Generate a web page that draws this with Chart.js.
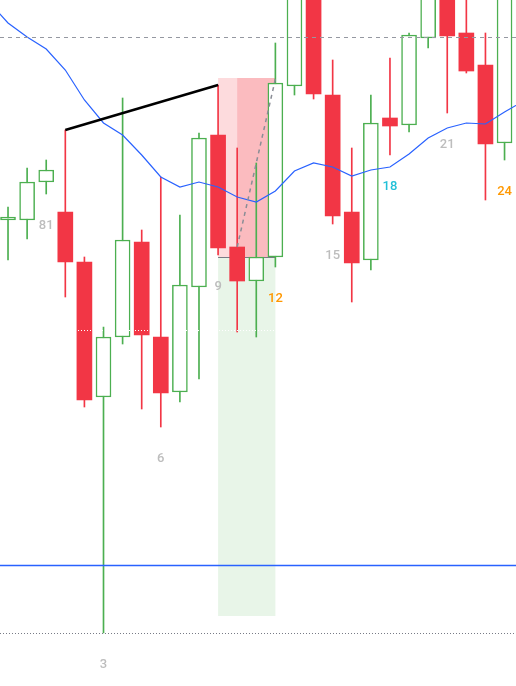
<!DOCTYPE html>
<html>
<head>
<meta charset="utf-8">
<script src="https://cdn.jsdelivr.net/npm/chart.js@4.4.1/dist/chart.umd.min.js"></script>
<style>
  html, body { margin: 0; padding: 0; background: #ffffff; }
  #wrap { width: 516px; height: 686px; position: relative; overflow: hidden; }
</style>
</head>
<body>
<div id="wrap"><canvas id="priceChart"></canvas></div>
<script>
// --- Data (bar index 0..26, prices) ---
const bars   = [0, 1, 2, 3, 4, 5, 6, 7, 8, 9, 10, 11, 12, 13, 14, 15, 16, 17, 18, 19, 20, 21, 22, 23, 24, 25, 26];
const opens  = [46.6, 46.6, 50.4, 47.4, 42.4, 28.9, 34.9, 44.4, 34.9, 29.4, 39.9, 55.1, 43.9, 40.5, 42.9, 60.0, 72.6, 59.1, 47.4, 42.6, 56.8, 56.1, 64.8, 70.6, 65.3, 62.1, 54.3];
const highs  = [47.9, 51.8, 52.6, 55.6, 42.9, 35.9, 58.8, 45.6, 50.9, 47.1, 55.3, 60.1, 53.8, 52.3, 64.3, 73.6, 74.6, 62.6, 53.8, 59.1, 62.8, 65.3, 72.6, 72.6, 69.6, 65.3, 73.6];
const lows   = [42.6, 44.7, 49.2, 38.9, 27.9,  5.3, 34.2, 27.7, 25.9, 28.4, 30.7, 43.1, 35.4, 34.9, 41.9, 59.1, 58.7, 46.2, 38.4, 41.6, 53.1, 55.4, 63.8, 57.3, 61.3, 48.6, 52.6];
const closes = [46.9, 50.4, 51.6, 42.4, 28.6, 34.9, 44.6, 35.1, 29.3, 40.1, 54.8, 43.8, 40.5, 42.9, 60.3, 71.6, 59.2, 47.0, 42.3, 56.3, 56.0, 65.1, 70.6, 65.0, 61.5, 54.2, 71.6];

// moving average, one bar before and after the visible range so the line runs off the edges
const maBars   = [-1, 0, 1, 2, 3, 4, 5, 6, 7, 8, 9, 10, 11, 12, 13, 14, 15, 16, 17, 18, 19, 20, 21, 22, 23, 24, 25, 26, 27];
const maValues = [68.4, 66.3, 64.9, 63.7, 61.6, 58.6, 56.3, 55.1, 53.1, 50.9, 49.9, 50.4, 49.9, 48.9, 48.4, 49.5, 51.5, 52.3, 51.9, 51.0, 51.6, 51.9, 53.2, 54.8, 55.8, 56.3, 56.2, 57.4, 58.5];

// bar count labels under the lows
const labelBars  = [2, 5, 8, 11, 14, 17, 20, 23, 26];
const labelTexts = ['81', '3', '6', '9', '12', '15', '18', '21', '24'];

// drawings
const trendBars   = [3, 11];
const trendPrices = [55.6, 60.1];
const positionBars   = [11, 12, 14];          // start, shaded start, end
const positionPrices = [60.8, 42.9, 7.0];     // stop, entry, target
const pathBars   = [12, 14];
const pathPrices = [43.9, 60.7];
const dashedLevel = 64.9;
const whiteLevel  = 35.6;
const blueLevel   = 12.1;
const dottedLevel = 5.3;

// --- Colours ---
const UP = '#4caf50';
const DOWN = '#f23645';
const labelColors = ['#bdbdbd', '#bdbdbd', '#bdbdbd', '#bdbdbd', '#ff9800', '#bdbdbd', '#22c0d8', '#bdbdbd', '#ff9800'];

const isUp = bars.map(i => closes[i] >= opens[i]);

// === Drawings plugin (everything placed through the chart scales) ===
const drawingsPlugin = {
    id: 'drawings',
    beforeDatasetsDraw(chart) {
        const { ctx, scales: { x, y } } = chart;
        const xa = x.getPixelForValue(positionBars[0]);
        const xb = x.getPixelForValue(positionBars[1]);
        const xc = x.getPixelForValue(positionBars[2]);
        const yStop = y.getPixelForValue(positionPrices[0]);
        const yEntry = y.getPixelForValue(positionPrices[1]);
        const yTarget = y.getPixelForValue(positionPrices[2]);
        ctx.save();
        ctx.fillStyle = 'rgba(76, 175, 80, 0.13)';
        ctx.fillRect(xa, yEntry, xc - xa, yTarget - yEntry);
        ctx.fillStyle = 'rgba(242, 54, 69, 0.18)';
        ctx.fillRect(xa, yStop, xc - xa, yEntry - yStop);
        ctx.fillStyle = 'rgba(242, 54, 69, 0.20)';
        ctx.fillRect(xb, yStop, xc - xb, yEntry - yStop);
        ctx.strokeStyle = '#787b86';
        ctx.lineWidth = 1;
        ctx.beginPath();
        ctx.moveTo(xa, Math.round(yEntry) + 0.5);
        ctx.lineTo(xc, Math.round(yEntry) + 0.5);
        ctx.stroke();
        ctx.restore();
    },
    afterDatasetsDraw(chart) {
        const { ctx, chartArea: area, scales: { x, y } } = chart;
        const hLine = (price, color, width, dash) => {
            const py = Math.round(y.getPixelForValue(price)) + 0.5;
            ctx.strokeStyle = color;
            ctx.lineWidth = width;
            ctx.setLineDash(dash);
            ctx.beginPath();
            ctx.moveTo(area.left, py);
            ctx.lineTo(area.right, py);
            ctx.stroke();
        };
        ctx.save();
        hLine(whiteLevel, '#ffffff', 1, [1, 2]);
        hLine(dashedLevel, '#9598a1', 1, [4, 4]);
        hLine(blueLevel, '#2962ff', 1.5, []);
        hLine(dottedLevel, '#787b86', 1, [1, 2]);

        // trend line
        ctx.setLineDash([]);
        ctx.strokeStyle = '#000000';
        ctx.lineWidth = 2.5;
        ctx.beginPath();
        ctx.moveTo(x.getPixelForValue(trendBars[0]), y.getPixelForValue(trendPrices[0]));
        ctx.lineTo(x.getPixelForValue(trendBars[1]), y.getPixelForValue(trendPrices[1]));
        ctx.stroke();

        // dashed path inside the position box
        ctx.setLineDash([4, 4]);
        ctx.strokeStyle = '#8a8d96';
        ctx.lineWidth = 1.5;
        ctx.beginPath();
        ctx.moveTo(x.getPixelForValue(pathBars[0]), y.getPixelForValue(pathPrices[0]));
        ctx.lineTo(x.getPixelForValue(pathBars[1]), y.getPixelForValue(pathPrices[1]));
        ctx.stroke();

        // bar count labels
        ctx.setLineDash([]);
        ctx.font = '500 13px Roboto, sans-serif';
        ctx.textAlign = 'center';
        ctx.textBaseline = 'middle';
        labelBars.forEach((b, k) => {
            ctx.fillStyle = labelColors[k];
            ctx.fillText(labelTexts[k], x.getPixelForValue(b), y.getPixelForValue(lows[b]) + 32);
        });
        ctx.restore();
    }
};

// === Candlestick chart (floating bars) ===
const ctxPrice = document.getElementById('priceChart').getContext('2d');
const priceChart = new Chart(ctxPrice, {
    type: 'bar',
    data: {
        datasets: [
            {
                type: 'line',
                label: 'MA',
                data: maBars.map((b, k) => ({ x: b, y: maValues[k] })),
                borderColor: '#2962ff',
                borderWidth: 1.2,
                pointRadius: 0,
                tension: 0,
                order: 0
            },
            {
                label: 'Body',
                data: bars.map(i => ({ x: i, y: [opens[i], closes[i]] })),
                backgroundColor: bars.map(i => isUp[i] ? '#ffffff' : DOWN),
                borderColor: bars.map(i => isUp[i] ? UP : DOWN),
                borderWidth: bars.map(i => isUp[i] ? 1.5 : 0),
                borderSkipped: false,
                barThickness: 15,
                grouped: false,
                order: 1
            },
            {
                label: 'Wick',
                data: bars.map(i => ({ x: i, y: [lows[i], highs[i]] })),
                backgroundColor: bars.map(i => isUp[i] ? UP : DOWN),
                borderWidth: 0,
                barThickness: 1,
                grouped: false,
                order: 2
            }
        ]
    },
    options: {
        responsive: true,
        maintainAspectRatio: false,
        animation: false,
        layout: { padding: 0 },
        plugins: {
            legend: { display: false },
            tooltip: { enabled: false }
        },
        scales: {
            x: {
                type: 'linear',
                min: -0.42,
                max: 26.6,
                offset: false,
                display: false
            },
            y: {
                type: 'linear',
                min: 0,
                max: 68.6,
                display: false
            }
        }
    },
    plugins: [drawingsPlugin]
});
</script>
</body>
</html>
